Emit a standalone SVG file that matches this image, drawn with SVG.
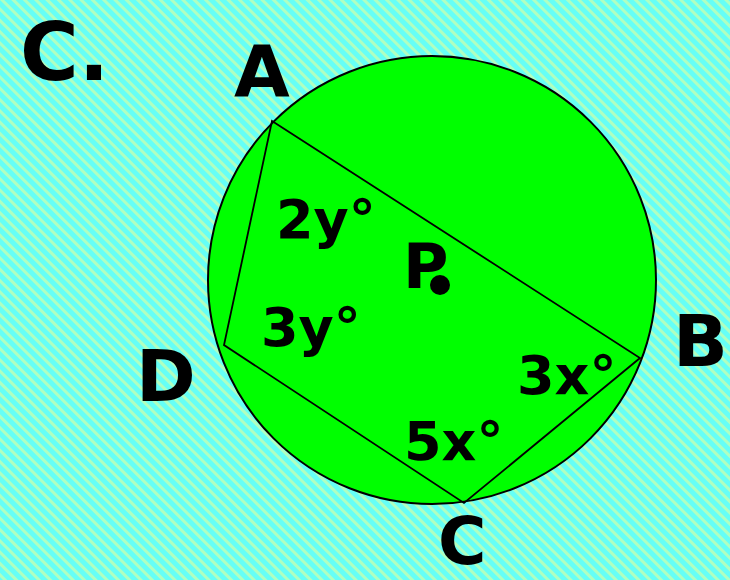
<svg xmlns="http://www.w3.org/2000/svg" width="730" height="580" viewBox="0 0 730 580">
<defs>
<pattern id="bg" width="8" height="8" patternUnits="userSpaceOnUse" patternTransform="rotate(-45)">
<rect width="8" height="8" fill="#66FFF6"/>
<rect width="3" height="8" fill="#B0FFC0"/>
</pattern>
</defs>
<style>
.t{font-family:"DejaVu Sans",sans-serif;font-weight:bold;fill:#000}
.lbl{font-size:72px}
.ang{font-size:54px}
</style>
<rect width="730" height="580" fill="url(#bg)"/>
<text class="t" x="20" y="80" font-size="80">C.</text>
<g id="circle">
<circle cx="432" cy="280" r="224" fill="#00FF00" stroke="#000" stroke-width="2"/>
</g>
<g id="connectors">
<polygon points="272,121 640,358 464,503 224,345" fill="none" stroke="#000" stroke-width="1.8"/>
</g>
<g id="A"><text class="t lbl" x="234" y="96">A</text></g>
<g id="B"><text class="t lbl" x="673" y="366">B</text></g>
<g id="C"><text class="t" x="438" y="564" font-size="66">C</text></g>
<g id="D"><text class="t lbl" x="136" y="401">D</text></g>
<g id="P"><text class="t" x="403" y="288" font-size="62">P</text><circle cx="440" cy="285" r="10" fill="#000"/></g>
<text class="t ang" x="276" y="238">2y°</text>
<text class="t ang" x="261" y="346">3y°</text>
<text class="t ang" x="517" y="394">3x°</text>
<text class="t ang" x="404" y="460">5x°</text>
</svg>
